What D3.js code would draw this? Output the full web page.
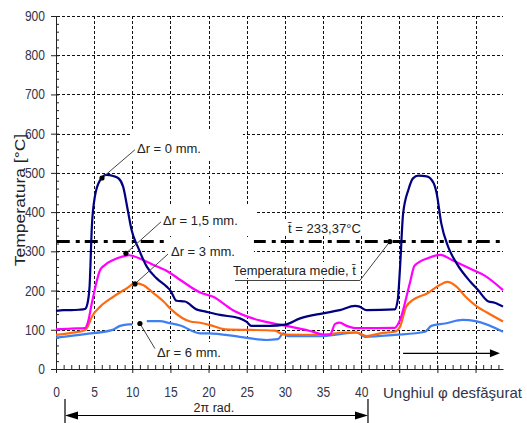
<!DOCTYPE html>
<html><head><meta charset="utf-8">
<script src="https://cdn.jsdelivr.net/npm/d3@7"></script>
<style>body{margin:0;background:#fff}</style>
</head><body>
<svg id="c" width="527" height="423"></svg>
<script>
// ---------- DATA ----------
const yTicks = [0,100,200,300,400,500,600,700,800,900];
const xTickLabels = [0,5,10,15,20,25,30,35,40];
const xMajorTicks = [0,5,10,15,20,25,30,35,40,45,50,55];
const seriesLabels = ["Δr = 0 mm.","Δr = 1,5 mm.","Δr = 3 mm.","Δr = 6 mm."];
const meanLabel = "t\u0304 = 233,37°C";
const meanCaption = "Temperatura medie, t\u0304";
const meanLevel = 325;

const dr0 = [[0,148],[1,150],[2,150],[3,151],[3.8,153],[4.1,165],[4.4,210],[4.7,363],[5.1,440],[5.8,482],[6.6,495],[7.5,492],[8.2,486],[8.8,465],[9.4,406],[9.9,355],[10.8,308],[11.9,261],[13.2,231],[14.5,210],[15,200],[15.8,174],[16.9,172],[18.4,152],[19.5,147],[21.5,138],[24.1,129],[25,120],[25.6,110],[28,110],[30,113],[32,129],[35,142],[37.2,150],[39.2,161],[39.8,159],[40.7,150],[44.4,152],[44.8,176],[45.1,258],[45.5,395],[46.2,457],[46.8,486],[47.5,493],[48.6,491],[49.5,474],[49.9,448],[50.5,372],[51.4,312],[52.5,270],[54.3,223],[55.3,202],[56.7,172],[57.5,169],[58.6,159]];
const dr15 = [[0,101],[2,103],[3.8,104],[4.2,120],[4.7,168],[5.8,253],[6.4,265],[7.5,278],[8.8,287],[9.6,290],[10.1,288],[11.4,278],[12.8,265],[14.7,248],[16.3,227],[18.9,195],[20.6,184],[23.2,150],[25.8,129],[28.3,117],[30.2,110],[33.3,97],[35,88],[35.9,87],[36.6,115],[37.2,118],[38.1,110],[39.4,104],[44.4,105],[45.1,125],[46.4,220],[47,263],[48.8,283],[50.4,291],[51.9,278],[54.6,253],[56.2,238],[58.6,201]];
const dr3 = [[0,87],[2,92],[3.8,99],[4.2,110],[4.7,133],[5.8,159],[7.5,184],[9.3,206],[10.4,219],[11.4,214],[12.8,193],[14.1,172],[15.2,150],[17.6,121],[18.9,118],[20.2,112],[21.5,104],[22.2,101],[28.7,98],[29.8,88],[35,87],[37.7,93],[39.4,93],[40.7,84],[42.5,91],[44.4,95],[45.1,108],[45.9,159],[46.8,176],[48.7,193],[50.3,214],[51.3,222],[52.5,210],[53.7,184],[55.2,159],[56.5,144],[58.6,121]];
const dr6 = [[0,80],[3.8,89],[7.3,99],[8.4,110],[9.5,114],[10,114],[11,null],[11.9,122],[13.6,122],[14.9,117],[16.3,111],[18.9,91],[20,91],[24.1,82],[27.6,74],[29.1,76],[29.8,91],[30.4,84],[35,84],[39.4,93],[40.5,82],[44.4,87],[48.4,95],[49.2,110],[51,116],[53.3,125],[55,122],[58.6,95]];

// ---------- LAYOUT ----------
const xMax = 58.6;
const x = d3.scaleLinear().domain([0,xMax]).range([56,503]);
const y = d3.scaleLinear().domain([0,900]).range([369,16]);
const svg = d3.select("#c");
const FONT = "'Liberation Sans', Arial, sans-serif";
const tickColor = "#33334a";

// grid
const grid = svg.append("g").attr("stroke","#111").attr("stroke-width",1)
  .attr("stroke-dasharray","3,2").attr("shape-rendering","crispEdges");
grid.selectAll("line.h").data(yTicks.filter(d=>d>0)).join("line")
  .attr("x1",x(0)+1).attr("x2",x(xMax)).attr("y1",d=>Math.round(y(d))+0.5).attr("y2",d=>Math.round(y(d))+0.5);
grid.selectAll("line.v").data(xMajorTicks.filter(d=>d>0)).join("line")
  .attr("y1",y(900)).attr("y2",y(0)).attr("x1",d=>Math.round(x(d))+0.5).attr("x2",d=>Math.round(x(d))+0.5);

// mean line
svg.append("line").attr("x1",x(0.1)).attr("x2",x(xMax)).attr("y1",y(meanLevel)).attr("y2",y(meanLevel))
  .attr("stroke","#000").attr("stroke-width",3).attr("stroke-dasharray","13,6,4,5");

// label boxes layer (white backgrounds of the text boxes)
const boxLayer = svg.append("g");

// y axis
const gy = svg.append("g").attr("transform",`translate(${x(0)},0)`)
  .call(d3.axisLeft(y).tickValues(yTicks).tickSize(5).tickPadding(6).tickSizeOuter(0));
gy.select(".domain").attr("stroke","#222");
gy.selectAll(".tick line").attr("stroke","#222");
gy.selectAll("text").attr("font-size",14).attr("font-family",FONT).attr("fill",tickColor)
  .attr("transform","scale(0.86,1)").attr("x",-11/0.86);
const gyMinor = svg.append("g").attr("transform",`translate(${x(0)},0)`)
  .call(d3.axisLeft(y).tickValues(d3.range(0,901,20)).tickSize(-3).tickFormat(""));
gyMinor.select(".domain").remove();
gyMinor.selectAll(".tick line").attr("stroke","#222");

// x axis
const gx = svg.append("g").attr("transform",`translate(0,${y(0)})`)
  .call(d3.axisBottom(x).tickValues(xMajorTicks).tickSize(4).tickPadding(14).tickSizeOuter(0)
    .tickFormat(d=>xTickLabels.includes(d)?d:""));
gx.select(".domain").attr("stroke","#222");
gx.selectAll(".tick line").attr("stroke","#222");
gx.selectAll("text").attr("font-size",14).attr("font-family",FONT).attr("fill",tickColor)
  .attr("transform","scale(0.86,1)");
const gxMinor = svg.append("g").attr("transform",`translate(0,${y(0)})`)
  .call(d3.axisBottom(x).tickValues(d3.range(0,59,1)).tickSize(-4).tickFormat(""));
gxMinor.select(".domain").remove();
gxMinor.selectAll(".tick line").attr("stroke","#222");

// axis titles
svg.append("text").attr("transform","translate(25,200) rotate(-90) scale(1,0.85)")
  .attr("text-anchor","middle").attr("font-size",17.5).attr("font-family",FONT).attr("fill","#222")
  .text("Temperatura [°C]");
svg.append("text").attr("x",383).attr("y",397.5).attr("font-size",15).attr("font-family",FONT)
  .attr("fill",tickColor).text("Unghiul φ desfăşurat");

// series
const line = d3.line().defined(d=>d[1]!=null).x(d=>x(d[0])).y(d=>y(d[1])).curve(d3.curveMonotoneX);
const series = [
  {data:dr6, color:"#3f7ff5"},
  {data:dr3, color:"#ff6a10"},
  {data:dr15, color:"#ff00ff"},
  {data:dr0, color:"#000080"}
];
svg.selectAll("path.s").data(series).join("path")
  .attr("fill","none").attr("stroke",d=>d.color).attr("stroke-width",2.2)
  .attr("stroke-linejoin","round").attr("d",d=>line(d.data));

// annotations
function labelWithBox(g, tx, ty, text, pad){
  const t = g.append("text").attr("x",tx).attr("y",ty).attr("font-size",13).attr("font-family",FONT)
    .attr("fill","#222").text(text);
  const b = t.node().getBBox();
  boxLayer.append("rect").attr("x",b.x-pad[0]).attr("y",b.y-pad[2])
    .attr("width",b.width+pad[0]+pad[1]).attr("height",b.height+pad[2]+pad[3]).attr("fill","#fff");
}
const ann = [
  {dot:[6.03,487], end:[10.35,559], tx:137, ty:153, text:seriesLabels[0], pad:[6,42,12,3]},
  {dot:[9.17,295], end:[13.76,375], tx:163, ty:225, text:seriesLabels[1], pad:[3,18,9,7]},
  {dot:[10.35,217], end:[14.68,293], tx:171, ty:256, text:seriesLabels[2], pad:[5,19,7,3]},
  {dot:[11.0,116], end:[12.97,52], tx:157, ty:357, text:seriesLabels[3], pad:[5,6,3,3]}
];
const ga = svg.append("g");
ann.forEach(a=>{
  ga.append("line").attr("x1",x(a.dot[0])).attr("y1",y(a.dot[1])).attr("x2",x(a.end[0])).attr("y2",y(a.end[1]))
    .attr("stroke","#444").attr("stroke-width",1);
  ga.append("circle").attr("cx",x(a.dot[0])).attr("cy",y(a.dot[1])).attr("r",2.6).attr("fill","#000");
  labelWithBox(ga, a.tx, a.ty, a.text, a.pad);
});
// mean annotations
ga.append("path").attr("d",`M${x(23.46)},280.5H${x(39.84)}L${x(43.77)},${y(meanLevel)}`)
  .attr("fill","none").attr("stroke","#444").attr("stroke-width",1);
ga.append("circle").attr("cx",x(43.77)).attr("cy",y(meanLevel)).attr("r",2.6).attr("fill","#000");
labelWithBox(ga, 233, 275, meanCaption, [1,3,1,0]);
labelWithBox(ga, 288, 232.5, meanLabel, [3,2,1,0]);

// direction arrow inside plot
const ay = y(40), ax1 = x(45.5), ax2 = x(58.2);
svg.append("line").attr("x1",ax1).attr("x2",ax2-8).attr("y1",ay).attr("y2",ay).attr("stroke","#000").attr("stroke-width",1.2);
svg.append("path").attr("d",`M${ax2},${ay}L${ax2-10},${ay-4}L${ax2-10},${ay+4}Z`).attr("fill","#000");

// 2π period arrow below axis
const p0 = x(1.18), p1 = x(40.9), py = 415.5;
const gp = svg.append("g").attr("stroke","#000").attr("stroke-width",1.2);
gp.append("line").attr("x1",p0).attr("x2",p0).attr("y1",399).attr("y2",423);
gp.append("line").attr("x1",p1).attr("x2",p1).attr("y1",399).attr("y2",423);
gp.append("line").attr("x1",p0+10).attr("x2",p1-10).attr("y1",py).attr("y2",py);
svg.append("path").attr("d",`M${p0},${py}L${p0+13},${py-4}L${p0+13},${py+4}Z`).attr("fill","#000");
svg.append("path").attr("d",`M${p1},${py}L${p1-13},${py-4}L${p1-13},${py+4}Z`).attr("fill","#000");
svg.append("text").attr("x",x(20.7)).attr("y",412).attr("text-anchor","middle").attr("font-size",12.5)
  .attr("font-family",FONT).attr("fill","#222").text("2π rad.");
</script>
</body></html>
